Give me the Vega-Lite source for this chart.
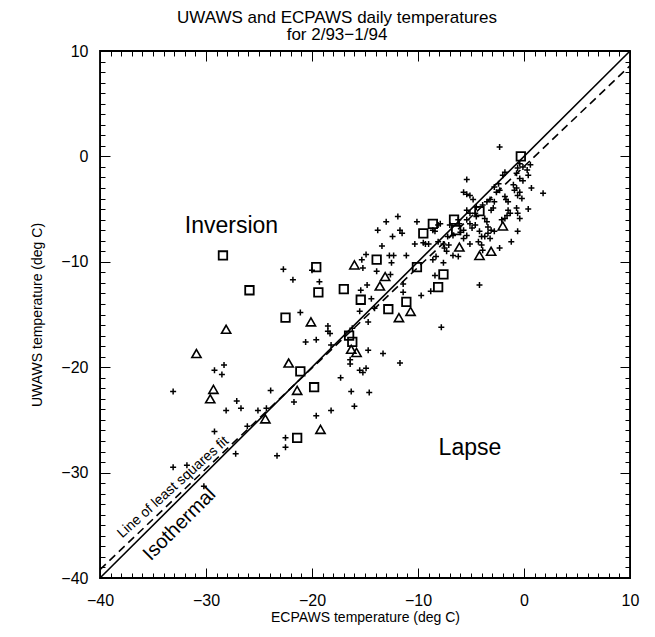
{
  "$schema": "https://vega.github.io/schema/vega-lite/v6.json",
  "autosize": {"type": "none"},
  "width": 530,
  "height": 527,
  "padding": {"left": 100, "top": 51, "right": 25, "bottom": 59},
  "background": "white",
  "config": {
    "view": {"stroke": "black", "strokeWidth": 1.8},
    "axis": {
      "grid": false,
      "labelColor": "black",
      "titleColor": "black",
      "labelFont": "Liberation Sans",
      "titleFont": "Liberation Sans",
      "labelFontSize": 16,
      "titleFontSize": 14,
      "titleFontWeight": "normal",
      "labelFlush": false
    }
  },
  "title": {
    "text": ["UWAWS and ECPAWS daily temperatures", "for 2/93\u22121/94"],
    "font": "Liberation Sans",
    "fontSize": 17,
    "fontWeight": "normal",
    "color": "black",
    "offset": -1,
    "dx": -28,
    "lineHeight": 17
  },
  "datasets": {
    "pts": [
      {"e": -28.4, "u": -9.4, "k": "square"}, {"e": -25.9, "u": -12.7, "k": "square"}, {"e": -22.5, "u": -15.3, "k": "square"},
      {"e": -19.6, "u": -10.5, "k": "square"}, {"e": -19.4, "u": -12.9, "k": "square"}, {"e": -17.0, "u": -12.6, "k": "square"},
      {"e": -15.4, "u": -13.6, "k": "square"}, {"e": -13.9, "u": -9.8, "k": "square"}, {"e": -12.8, "u": -14.5, "k": "square"},
      {"e": -11.1, "u": -13.8, "k": "square"}, {"e": -10.1, "u": -10.5, "k": "square"}, {"e": -9.5, "u": -7.3, "k": "square"},
      {"e": -8.6, "u": -6.4, "k": "square"}, {"e": -7.6, "u": -11.2, "k": "square"}, {"e": -8.1, "u": -12.4, "k": "square"},
      {"e": -6.6, "u": -6.0, "k": "square"}, {"e": -6.4, "u": -7.0, "k": "square"}, {"e": -4.2, "u": -5.2, "k": "square"},
      {"e": -0.3, "u": 0.0, "k": "square"}, {"e": -16.5, "u": -17.0, "k": "square"}, {"e": -16.2, "u": -17.6, "k": "square"},
      {"e": -21.1, "u": -20.4, "k": "square"}, {"e": -19.8, "u": -21.9, "k": "square"}, {"e": -21.4, "u": -26.7, "k": "square"},
      {"e": -28.1, "u": -16.4, "k": "triangle"}, {"e": -30.9, "u": -18.7, "k": "triangle"}, {"e": -29.3, "u": -22.1, "k": "triangle"},
      {"e": -29.6, "u": -23.0, "k": "triangle"}, {"e": -24.4, "u": -24.9, "k": "triangle"}, {"e": -22.2, "u": -19.6, "k": "triangle"},
      {"e": -21.4, "u": -22.2, "k": "triangle"}, {"e": -20.1, "u": -15.7, "k": "triangle"}, {"e": -19.2, "u": -25.9, "k": "triangle"},
      {"e": -16.0, "u": -10.3, "k": "triangle"}, {"e": -16.3, "u": -18.3, "k": "triangle"}, {"e": -15.8, "u": -18.6, "k": "triangle"},
      {"e": -13.1, "u": -11.4, "k": "triangle"}, {"e": -13.6, "u": -12.3, "k": "triangle"}, {"e": -11.8, "u": -15.3, "k": "triangle"},
      {"e": -10.7, "u": -14.7, "k": "triangle"}, {"e": -6.1, "u": -8.6, "k": "triangle"}, {"e": -4.2, "u": -9.4, "k": "triangle"},
      {"e": -3.1, "u": -9.0, "k": "triangle"}, {"e": -2.0, "u": -6.6, "k": "triangle"},
      {"e": -22.7, "u": -10.7, "k": "plus"}, {"e": -21.8, "u": -11.7, "k": "plus"}, {"e": -20.0, "u": -10.8, "k": "plus"},
      {"e": -19.3, "u": -11.9, "k": "plus"}, {"e": -21.1, "u": -14.8, "k": "plus"}, {"e": -18.5, "u": -16.1, "k": "plus"},
      {"e": -18.5, "u": -16.6, "k": "plus"}, {"e": -18.3, "u": -16.8, "k": "plus"}, {"e": -20.6, "u": -17.6, "k": "plus"},
      {"e": -19.6, "u": -17.4, "k": "plus"}, {"e": -18.2, "u": -17.9, "k": "plus"}, {"e": -14.9, "u": -9.3, "k": "plus"},
      {"e": -15.3, "u": -9.8, "k": "plus"}, {"e": -15.2, "u": -10.6, "k": "plus"}, {"e": -14.8, "u": -12.2, "k": "plus"},
      {"e": -15.4, "u": -12.7, "k": "plus"}, {"e": -28.3, "u": -19.8, "k": "plus"}, {"e": -29.2, "u": -20.3, "k": "plus"},
      {"e": -28.5, "u": -20.7, "k": "plus"}, {"e": -33.1, "u": -22.3, "k": "plus"}, {"e": -23.9, "u": -22.2, "k": "plus"},
      {"e": -27.1, "u": -23.2, "k": "plus"}, {"e": -28.1, "u": -24.1, "k": "plus"}, {"e": -26.7, "u": -23.9, "k": "plus"},
      {"e": -25.1, "u": -24.1, "k": "plus"}, {"e": -24.3, "u": -23.9, "k": "plus"}, {"e": -21.7, "u": -23.3, "k": "plus"},
      {"e": -29.2, "u": -26.1, "k": "plus"}, {"e": -26.1, "u": -25.6, "k": "plus"}, {"e": -22.5, "u": -26.7, "k": "plus"},
      {"e": -22.5, "u": -27.6, "k": "plus"}, {"e": -23.3, "u": -28.4, "k": "plus"}, {"e": -27.2, "u": -28.2, "k": "plus"},
      {"e": -33.1, "u": -29.5, "k": "plus"}, {"e": -31.8, "u": -29.3, "k": "plus"}, {"e": -30.2, "u": -31.3, "k": "plus"},
      {"e": -19.6, "u": -24.6, "k": "plus"}, {"e": -18.2, "u": -24.1, "k": "plus"}, {"e": -17.3, "u": -21.0, "k": "plus"},
      {"e": -16.3, "u": -22.3, "k": "plus"}, {"e": -16.0, "u": -23.7, "k": "plus"}, {"e": -16.4, "u": -19.3, "k": "plus"},
      {"e": -16.4, "u": -19.7, "k": "plus"}, {"e": -14.7, "u": -18.4, "k": "plus"}, {"e": -13.3, "u": -18.7, "k": "plus"},
      {"e": -11.7, "u": -19.6, "k": "plus"}, {"e": -15.5, "u": -20.3, "k": "plus"}, {"e": -14.9, "u": -20.1, "k": "plus"},
      {"e": -15.2, "u": -20.5, "k": "plus"}, {"e": -14.6, "u": -22.4, "k": "plus"}, {"e": -14.7, "u": -15.7, "k": "plus"},
      {"e": -7.8, "u": -16.2, "k": "plus"}, {"e": -16.2, "u": -16.3, "k": "plus"}, {"e": -13.4, "u": -8.5, "k": "plus"},
      {"e": -10.3, "u": -8.3, "k": "plus"}, {"e": -9.0, "u": -8.3, "k": "plus"}, {"e": -9.5, "u": -8.2, "k": "plus"},
      {"e": -12.7, "u": -9.4, "k": "plus"}, {"e": -12.3, "u": -9.4, "k": "plus"}, {"e": -12.5, "u": -10.1, "k": "plus"},
      {"e": -11.1, "u": -9.4, "k": "plus"}, {"e": -13.9, "u": -10.9, "k": "plus"}, {"e": -12.6, "u": -11.2, "k": "plus"},
      {"e": -11.4, "u": -12.9, "k": "plus"}, {"e": -9.7, "u": -13.2, "k": "plus"}, {"e": -14.4, "u": -13.5, "k": "plus"},
      {"e": -15.5, "u": -14.7, "k": "plus"}, {"e": -14.1, "u": -14.4, "k": "plus"}, {"e": -11.4, "u": -12.1, "k": "plus"},
      {"e": -8.8, "u": -12.8, "k": "plus"}, {"e": -11.9, "u": -5.7, "k": "plus"}, {"e": -13.0, "u": -6.2, "k": "plus"},
      {"e": -13.8, "u": -7.0, "k": "plus"}, {"e": -11.7, "u": -7.0, "k": "plus"}, {"e": -11.5, "u": -7.3, "k": "plus"},
      {"e": -12.4, "u": -7.6, "k": "plus"}, {"e": -10.1, "u": -6.2, "k": "plus"}, {"e": -8.4, "u": -7.1, "k": "plus"},
      {"e": -7.9, "u": -6.4, "k": "plus"}, {"e": -7.0, "u": -6.5, "k": "plus"}, {"e": -2.3, "u": 0.9, "k": "plus"},
      {"e": -5.4, "u": -2.2, "k": "plus"}, {"e": -5.7, "u": -3.4, "k": "plus"}, {"e": -5.4, "u": -3.6, "k": "plus"},
      {"e": -5.1, "u": -3.7, "k": "plus"}, {"e": -4.8, "u": -4.1, "k": "plus"}, {"e": -0.4, "u": -0.7, "k": "plus"},
      {"e": -0.1, "u": -1.0, "k": "plus"}, {"e": 0.6, "u": -0.8, "k": "plus"}, {"e": 0.3, "u": -1.3, "k": "plus"},
      {"e": -0.6, "u": -1.1, "k": "plus"}, {"e": -0.7, "u": -1.6, "k": "plus"}, {"e": -0.4, "u": -2.1, "k": "plus"},
      {"e": -0.1, "u": -2.3, "k": "plus"}, {"e": 0.4, "u": -1.8, "k": "plus"}, {"e": -1.8, "u": -1.5, "k": "plus"},
      {"e": -2.0, "u": -1.8, "k": "plus"}, {"e": -2.4, "u": -2.6, "k": "plus"}, {"e": -2.8, "u": -2.9, "k": "plus"},
      {"e": -2.3, "u": -3.2, "k": "plus"}, {"e": -2.6, "u": -3.4, "k": "plus"}, {"e": -1.0, "u": -2.7, "k": "plus"},
      {"e": -0.7, "u": -3.0, "k": "plus"}, {"e": -0.4, "u": -3.4, "k": "plus"}, {"e": -0.9, "u": -3.2, "k": "plus"},
      {"e": -0.6, "u": -3.7, "k": "plus"}, {"e": -0.2, "u": -4.0, "k": "plus"}, {"e": 0.7, "u": -3.0, "k": "plus"},
      {"e": 1.8, "u": -3.5, "k": "plus"}, {"e": -3.2, "u": -4.1, "k": "plus"}, {"e": -2.8, "u": -4.3, "k": "plus"},
      {"e": -1.8, "u": -3.8, "k": "plus"}, {"e": -1.7, "u": -4.1, "k": "plus"}, {"e": -1.5, "u": -4.3, "k": "plus"},
      {"e": -2.9, "u": -4.9, "k": "plus"}, {"e": -3.1, "u": -5.1, "k": "plus"}, {"e": -0.7, "u": -4.9, "k": "plus"},
      {"e": -0.6, "u": -5.4, "k": "plus"}, {"e": -0.4, "u": -5.9, "k": "plus"}, {"e": 0.4, "u": -5.0, "k": "plus"},
      {"e": -1.5, "u": -5.1, "k": "plus"}, {"e": -1.3, "u": -5.4, "k": "plus"}, {"e": -1.6, "u": -5.6, "k": "plus"},
      {"e": -1.8, "u": -5.9, "k": "plus"}, {"e": -2.1, "u": -6.0, "k": "plus"}, {"e": -3.7, "u": -5.9, "k": "plus"},
      {"e": -3.5, "u": -6.2, "k": "plus"}, {"e": -5.4, "u": -6.0, "k": "plus"}, {"e": -5.1, "u": -6.4, "k": "plus"},
      {"e": -4.6, "u": -6.5, "k": "plus"}, {"e": -4.9, "u": -6.8, "k": "plus"}, {"e": -3.4, "u": -6.7, "k": "plus"},
      {"e": -3.1, "u": -7.0, "k": "plus"}, {"e": -3.4, "u": -7.3, "k": "plus"}, {"e": -2.8, "u": -7.1, "k": "plus"},
      {"e": -3.7, "u": -7.6, "k": "plus"}, {"e": -3.2, "u": -7.8, "k": "plus"}, {"e": -4.2, "u": -7.1, "k": "plus"},
      {"e": -4.0, "u": -7.6, "k": "plus"}, {"e": -4.3, "u": -8.1, "k": "plus"}, {"e": -4.0, "u": -8.4, "k": "plus"},
      {"e": -5.7, "u": -7.0, "k": "plus"}, {"e": -5.4, "u": -7.5, "k": "plus"}, {"e": -5.7, "u": -7.8, "k": "plus"},
      {"e": -5.1, "u": -8.3, "k": "plus"}, {"e": -3.9, "u": -8.9, "k": "plus"}, {"e": -2.3, "u": -8.7, "k": "plus"},
      {"e": -1.2, "u": -8.1, "k": "plus"}, {"e": -0.6, "u": -7.1, "k": "plus"}, {"e": -7.1, "u": -8.4, "k": "plus"},
      {"e": -7.5, "u": -8.7, "k": "plus"}, {"e": -7.3, "u": -9.0, "k": "plus"}, {"e": -6.7, "u": -9.4, "k": "plus"},
      {"e": -6.2, "u": -9.5, "k": "plus"}, {"e": -7.6, "u": -8.3, "k": "plus"}, {"e": -8.1, "u": -8.1, "k": "plus"},
      {"e": -8.3, "u": -9.5, "k": "plus"}, {"e": -8.6, "u": -9.8, "k": "plus"}, {"e": -7.6, "u": -10.1, "k": "plus"},
      {"e": -8.4, "u": -11.3, "k": "plus"}, {"e": -4.2, "u": -12.2, "k": "plus"}, {"e": -9.3, "u": -8.3, "k": "plus"},
      {"e": -8.6, "u": -7.0, "k": "plus"}, {"e": -8.1, "u": -6.5, "k": "plus"}, {"e": -5.4, "u": -5.1, "k": "plus"},
      {"e": -5.1, "u": -5.4, "k": "plus"}, {"e": -6.2, "u": -6.0, "k": "plus"}, {"e": -6.1, "u": -6.4, "k": "plus"},
      {"e": -4.6, "u": -5.4, "k": "plus"}, {"e": -4.5, "u": -5.7, "k": "plus"}, {"e": -4.5, "u": -4.8, "k": "plus"},
      {"e": -3.9, "u": -4.6, "k": "plus"}, {"e": -3.5, "u": -4.3, "k": "plus"}, {"e": -7.2, "u": -7.6, "k": "plus"},
      {"e": -6.7, "u": -7.5, "k": "plus"}, {"e": -6.0, "u": -7.2, "k": "plus"}
    ],
    "lines": [
      {"e": -40, "u": -40, "fit": "Isothermal"}, {"e": 10, "u": 10, "fit": "Isothermal"},
      {"e": -40, "u": -39.2, "fit": "Least squares"}, {"e": 10, "u": 8.6, "fit": "Least squares"}
    ],
    "notes": [
      {"e": -27.6, "u": -6.6, "t": "Inversion", "kind": "region"},
      {"e": -5.1, "u": -27.7, "t": "Lapse", "kind": "region"},
      {"e": -33.1, "u": -31.4, "t": "Line of least squares fit", "kind": "fit"},
      {"e": -32.5, "u": -34.9, "t": "Isothermal", "kind": "iso"}
    ]
  },
  "resolve": {"axis": {"x": "independent", "y": "independent"}},
  "layer": [
    {
      "data": {"name": "lines"},
      "transform": [{"filter": "datum.fit === 'Isothermal'"}],
      "mark": {"type": "line", "color": "black", "strokeWidth": 1.6},
      "encoding": {
        "x": {"field": "e", "type": "quantitative", "scale": {"domain": [-40, 10], "nice": false, "zero": false},
          "axis": {"orient": "bottom", "values": [-40, -30, -20, -10, 0, 10], "ticks": false, "domainColor": "black", "labelPadding": 14,
            "title": "ECPAWS temperature (deg C)", "titlePadding": 2}},
        "y": {"field": "u", "type": "quantitative", "scale": {"domain": [-40, 10], "nice": false, "zero": false},
          "axis": {"orient": "left", "values": [-40, -30, -20, -10, 0, 10], "ticks": false, "domainColor": "black", "labelPadding": 12,
            "title": "UWAWS temperature (deg C)", "titlePadding": 16}}
      }
    },
    {
      "data": {"name": "lines"},
      "transform": [{"filter": "datum.fit === 'Least squares'"}],
      "mark": {"type": "line", "color": "black", "strokeWidth": 1.6, "strokeDash": [8, 5]},
      "encoding": {
        "x": {"field": "e", "type": "quantitative", "scale": {"domain": [-40, 10], "nice": false, "zero": false},
          "axis": {"orient": "top", "offset": -527, "values": [-40, -30, -20, -10, 0, 10], "tickSize": 10, "tickColor": "black", "domainColor": "black", "labelExpr": "''", "title": null}},
        "y": {"field": "u", "type": "quantitative", "scale": {"domain": [-40, 10], "nice": false, "zero": false},
          "axis": {"orient": "right", "offset": -530, "values": [-40, -30, -20, -10, 0, 10], "tickSize": 10, "tickColor": "black", "domainColor": "black", "labelExpr": "''", "title": null}}
      }
    },
    {
      "data": {"name": "pts"},
      "transform": [{"filter": "datum.k === 'plus'"}],
      "mark": {"type": "point", "shape": "M-1,0L1,0M0,-1L0,1", "filled": false, "color": "black", "strokeWidth": 1.5, "size": 36, "opacity": 1},
      "encoding": {
        "x": {"field": "e", "type": "quantitative", "scale": {"domain": [-40, 10], "nice": false, "zero": false},
          "axis": {"orient": "top", "offset": -527, "values": [-40,-39,-38,-37,-36,-35,-34,-33,-32,-31,-30,-29,-28,-27,-26,-25,-24,-23,-22,-21,-20,-19,-18,-17,-16,-15,-14,-13,-12,-11,-10,-9,-8,-7,-6,-5,-4,-3,-2,-1,0,1,2,3,4,5,6,7,8,9,10],
            "tickSize": 5, "tickColor": "black", "domainColor": "black", "labelExpr": "''", "title": null}},
        "y": {"field": "u", "type": "quantitative", "scale": {"domain": [-40, 10], "nice": false, "zero": false},
          "axis": {"orient": "right", "offset": -530, "values": [-40,-39,-38,-37,-36,-35,-34,-33,-32,-31,-30,-29,-28,-27,-26,-25,-24,-23,-22,-21,-20,-19,-18,-17,-16,-15,-14,-13,-12,-11,-10,-9,-8,-7,-6,-5,-4,-3,-2,-1,0,1,2,3,4,5,6,7,8,9,10],
            "tickSize": 5, "tickColor": "black", "domainColor": "black", "labelExpr": "''", "title": null}}
      }
    },
    {
      "data": {"name": "pts"},
      "transform": [{"filter": "datum.k === 'square'"}],
      "mark": {"type": "point", "shape": "square", "filled": false, "color": "black", "strokeWidth": 1.8, "size": 72, "opacity": 1},
      "encoding": {
        "x": {"field": "e", "type": "quantitative", "scale": {"domain": [-40, 10], "nice": false, "zero": false},
          "axis": {"orient": "bottom", "offset": -527, "values": [-40, -30, -20, -10, 0, 10], "tickSize": 10, "tickColor": "black", "domainColor": "black", "labelExpr": "''", "title": null}},
        "y": {"field": "u", "type": "quantitative", "scale": {"domain": [-40, 10], "nice": false, "zero": false},
          "axis": {"orient": "left", "offset": -530, "values": [-40, -30, -20, -10, 0, 10], "tickSize": 10, "tickColor": "black", "domainColor": "black", "labelExpr": "''", "title": null}}
      }
    },
    {
      "data": {"name": "pts"},
      "transform": [{"filter": "datum.k === 'triangle'"}],
      "mark": {"type": "point", "shape": "triangle-up", "filled": false, "color": "black", "strokeWidth": 1.6, "size": 85, "opacity": 1},
      "encoding": {
        "x": {"field": "e", "type": "quantitative", "scale": {"domain": [-40, 10], "nice": false, "zero": false},
          "axis": {"orient": "bottom", "offset": -527, "values": [-40,-39,-38,-37,-36,-35,-34,-33,-32,-31,-30,-29,-28,-27,-26,-25,-24,-23,-22,-21,-20,-19,-18,-17,-16,-15,-14,-13,-12,-11,-10,-9,-8,-7,-6,-5,-4,-3,-2,-1,0,1,2,3,4,5,6,7,8,9,10],
            "tickSize": 5, "tickColor": "black", "domainColor": "black", "labelExpr": "''", "title": null}},
        "y": {"field": "u", "type": "quantitative", "scale": {"domain": [-40, 10], "nice": false, "zero": false},
          "axis": {"orient": "left", "offset": -530, "values": [-40,-39,-38,-37,-36,-35,-34,-33,-32,-31,-30,-29,-28,-27,-26,-25,-24,-23,-22,-21,-20,-19,-18,-17,-16,-15,-14,-13,-12,-11,-10,-9,-8,-7,-6,-5,-4,-3,-2,-1,0,1,2,3,4,5,6,7,8,9,10],
            "tickSize": 5, "tickColor": "black", "domainColor": "black", "labelExpr": "''", "title": null}}
      }
    },
    {
      "data": {"name": "notes"},
      "transform": [{"filter": "datum.kind === 'region'"}],
      "mark": {"type": "text", "font": "Liberation Sans", "fontSize": 23, "color": "black", "align": "center", "baseline": "middle"},
      "encoding": {
        "x": {"field": "e", "type": "quantitative", "scale": {"domain": [-40, 10], "nice": false, "zero": false}, "axis": null},
        "y": {"field": "u", "type": "quantitative", "scale": {"domain": [-40, 10], "nice": false, "zero": false}, "axis": null},
        "text": {"field": "t"}
      }
    },
    {
      "data": {"name": "notes"},
      "transform": [{"filter": "datum.kind === 'fit'"}],
      "mark": {"type": "text", "font": "Liberation Sans", "fontSize": 14, "color": "black", "align": "center", "baseline": "middle", "angle": 318},
      "encoding": {
        "x": {"field": "e", "type": "quantitative", "scale": {"domain": [-40, 10], "nice": false, "zero": false}, "axis": null},
        "y": {"field": "u", "type": "quantitative", "scale": {"domain": [-40, 10], "nice": false, "zero": false}, "axis": null},
        "text": {"field": "t"}
      }
    },
    {
      "data": {"name": "notes"},
      "transform": [{"filter": "datum.kind === 'iso'"}],
      "mark": {"type": "text", "font": "Liberation Sans", "fontSize": 20, "color": "black", "align": "center", "baseline": "middle", "angle": 315},
      "encoding": {
        "x": {"field": "e", "type": "quantitative", "scale": {"domain": [-40, 10], "nice": false, "zero": false}, "axis": null},
        "y": {"field": "u", "type": "quantitative", "scale": {"domain": [-40, 10], "nice": false, "zero": false}, "axis": null},
        "text": {"field": "t"}
      }
    }
  ]
}
